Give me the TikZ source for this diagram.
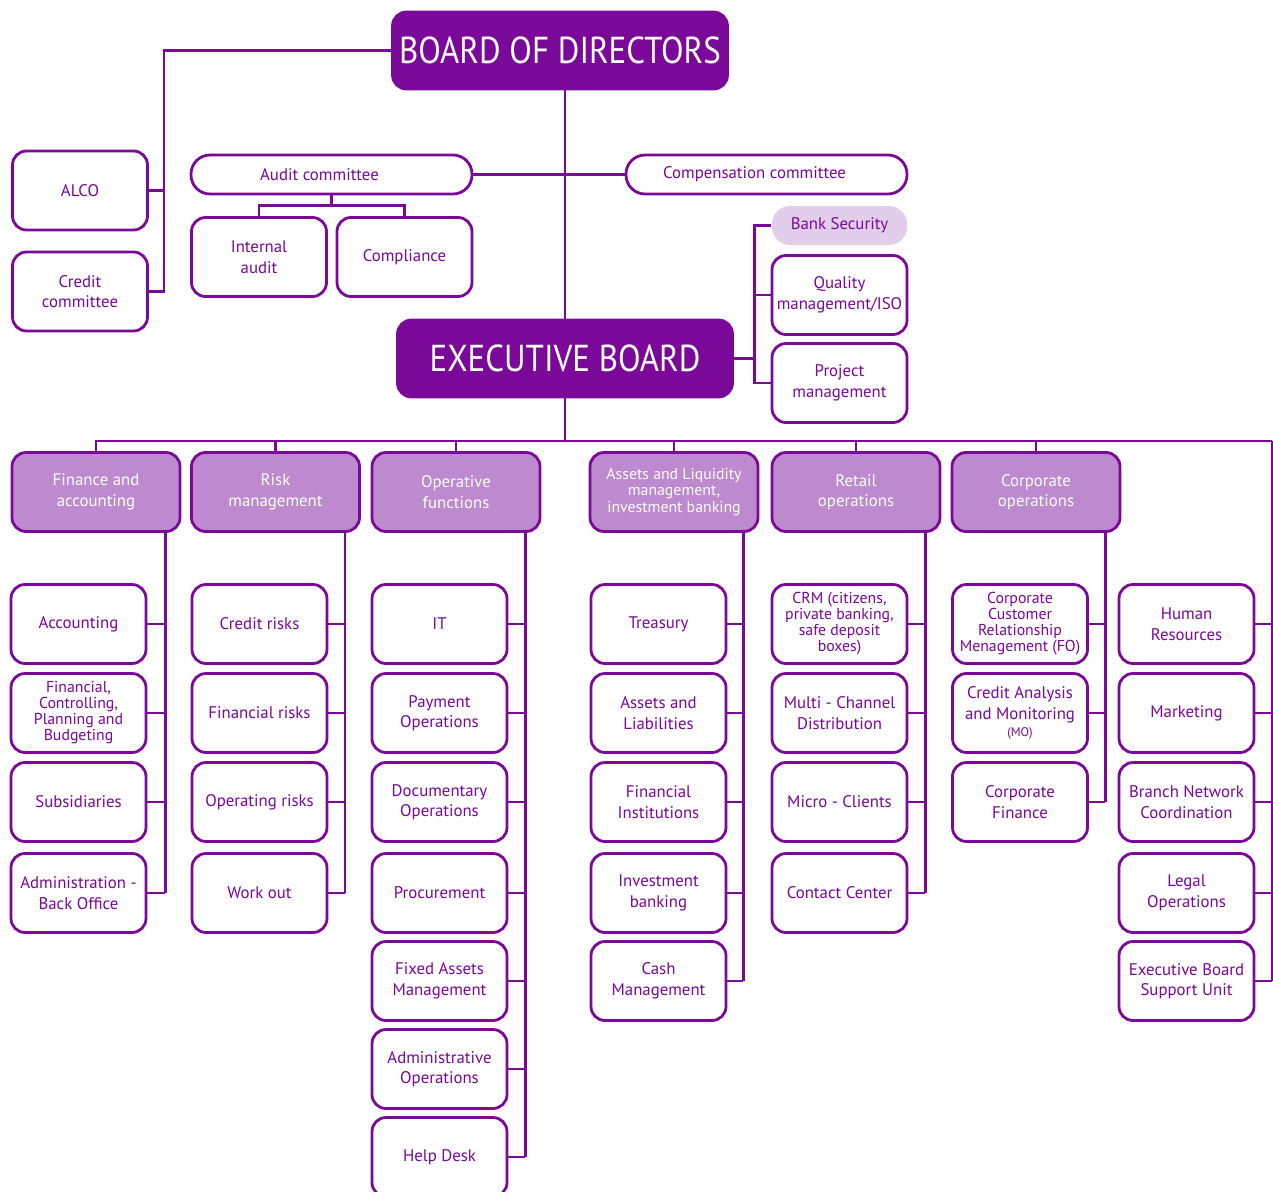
\documentclass[tikz,border=0pt]{standalone}
\usepackage{fontspec}
\setmainfont{PT Sans}
\newfontfamily\titlefont[FakeStretch=0.88]{PT Sans}
\definecolor{orgpurple}{RGB}{122,8,153}
\definecolor{headlilac}{RGB}{190,138,207}
\definecolor{palelilac}{RGB}{226,205,234}
\begin{document}
\begin{tikzpicture}[x=1pt, y=-1pt,
    link/.style={draw=orgpurple, line width=2.8pt},
    unit/.style={draw=orgpurple, line width=2.8pt, fill=white, rounded corners=14pt, minimum width=135pt, minimum height=79pt, inner sep=1pt, align=center, text=orgpurple, font=\fontsize{16.8}{20.5}\selectfont},
    tight/.style={unit, font=\fontsize{15.8}{16}\selectfont},
    head/.style={unit, fill=headlilac, minimum width=168pt, text=white},
    board/.style={unit, fill=orgpurple, text=white, minimum width=335pt, minimum height=77pt, font=\titlefont\fontsize{37.5}{40}\selectfont},
    pill/.style={unit, rounded corners=19pt, minimum width=281pt, minimum height=39pt}]
    \useasboundingbox (0,0) rectangle (1273,1191);
    \node [board] (bod) at (560,50.5) {BOARD OF DIRECTORS};
    \node [board] (eb) at (565,358.5) {EXECUTIVE BOARD};
    \node [unit] (alco) at (80,190.5) {ALCO};
    \node [unit] (crc) at (80,291.5) {Credit\\committee};
    \node [pill] (aud) at (331.5,174.5) {Audit committee\hspace*{24pt}};
    \node [pill] (comp) at (766.5,174.5) {Compensation committee\hspace*{24pt}};
    \node [unit] (ia) at (259,257) {Internal\\audit};
    \node [unit] (cpl) at (404.5,257) {Compliance};
    \node [unit, draw=none, fill=palelilac, rounded corners=18pt, minimum height=39pt] (bsec) at (839.5,225.5) {Bank Security};
    \node [unit] (qm) at (839.5,295) {Quality\\management/ISO};
    \node [unit] (pm) at (839.5,383) {Project\\management};
    \coordinate (lspine) at ([xshift=15pt]crc.east);
    \draw [link] (bod.west) -| (lspine) -- (crc.east);
    \draw [link] (alco.east) -- (alco.east -| lspine);
    \draw [link] (eb.north) -- (eb.north |- bod.south);
    \draw [link] (aud.east) -- (comp.west);
    \coordinate (audsplit) at ([yshift=-10pt]aud.south);
    \draw [link] (aud.south) -- (audsplit) -| (ia.north);
    \draw [link] (audsplit) -| (cpl.north);
    \coordinate (rspine) at ([xshift=-16pt]bsec.west);
    \draw [link] (eb.east) -- (eb.east -| rspine);
    \draw [link] (bsec.west) -- (bsec.west -| rspine) |- (pm.west);
    \draw [link] (qm.west) -- (qm.west -| rspine);
    \coordinate (bus) at (565,441);
    \coordinate (busend) at (1272,441);
    \foreach \n/\x/\t in {fin/96/{Finance and\\accounting}, risk/275.5/{Risk\\management}, oper/456/{Operative\\functions}, ret/856/{Retail\\operations}, corp/1036/{Corporate\\operations}}
        \node [head] (\n) at (\x,492) {\t};
    \node [head, font=\fontsize{15.8}{16.5}\selectfont] (alm) at (674,492) {Assets and Liquidity\\management,\\investment banking};
    \foreach \n in {fin,risk,oper,alm,ret,corp}
        \coordinate (sp\n) at ([xshift=-16pt]\n.south east);
    \draw [link] (eb.south) -- (bus);
    \draw [link] (fin.north) |- (busend);
    \foreach \n in {risk,oper,alm,ret,corp}
        \draw [link] (\n.north) -- (\n.north |- bus);
    \foreach \n/\y/\s/\t in {acc/624/unit/Accounting, fcp/713/tight/{Financial,\\Controlling,\\Planning and\\Budgeting}, subs/802/unit/Subsidiaries, adm/893/unit/{Administration -\\Back Office}}
    {
        \node [\s] (\n) at (78.5,\y) {\t};
        \draw [link] (\n.east) -- (\n.east -| spfin);
    }
    \foreach \n/\y/\t in {crr/624/Credit risks, fir/713/Financial risks, opr/802/Operating risks, wo/893/Work out}
    {
        \node [unit] (\n) at (259.5,\y) {\t};
        \draw [link] (\n.east) -- (\n.east -| sprisk);
    }
    \foreach \n/\y/\t in {it/624/IT, pay/713/{Payment\\Operations}, doc/802/{Documentary\\Operations}, proc/893/Procurement, fam/981/{Fixed Assets\\Management}, ado/1069/{Administrative\\Operations}, hd/1157/Help Desk}
    {
        \node [unit] (\n) at (439.5,\y) {\t};
        \draw [link] (\n.east) -- (\n.east -| spoper);
    }
    \foreach \n/\y/\t in {tre/624/Treasury, aal/713/{Assets and\\Liabilities}, fins/802/{Financial\\Institutions}, inv/893/{Investment\\banking}, cash/981/{Cash\\Management}}
    {
        \node [unit] (\n) at (658.5,\y) {\t};
        \draw [link] (\n.east) -- (\n.east -| spalm);
    }
    \foreach \n/\y/\s/\t in {crm/624/tight/{CRM (citizens,\\private banking,\\safe deposit\\boxes)}, mcd/713/unit/{Multi - Channel\\Distribution}, mic/802/unit/Micro - Clients, cc/893/unit/Contact Center}
    {
        \node [\s] (\n) at (839.5,\y) {\t};
        \draw [link] (\n.east) -- (\n.east -| spret);
    }
    \foreach \n/\y/\s/\t in {ccrm/624/tight/{Corporate\\Customer\\Relationship\\Menagement (FO)}, cam/713/unit/{Credit Analysis\\and Monitoring\\[-3pt]{\fontsize{12.5}{13}\selectfont (MO)}}, cfin/802/unit/{Corporate\\Finance}}
    {
        \node [\s] (\n) at (1020,\y) {\t};
        \draw [link] (\n.east) -- (\n.east -| spcorp);
    }
    \foreach \n/\y/\t in {hr/624/{Human\\Resources}, mkt/713/Marketing, bnc/802/{Branch Network\\Coordination}, leg/893/{Legal\\Operations}, esu/981/{Executive Board\\Support Unit}}
    {
        \node [unit] (\n) at (1186.5,\y) {\t};
        \draw [link] (\n.east) -- (\n.east -| busend);
    }
    \draw [link] (spfin) -- (spfin |- adm.east);
    \draw [link] (sprisk) -- (sprisk |- wo.east);
    \draw [link] (spoper) -- (spoper |- hd.east);
    \draw [link] (spalm) -- (spalm |- cash.east);
    \draw [link] (spret) -- (spret |- cc.east);
    \draw [link] (spcorp) -- (spcorp |- cfin.east);
    \draw [link] (busend) -- (busend |- esu.east);
\end{tikzpicture}
\end{document}
